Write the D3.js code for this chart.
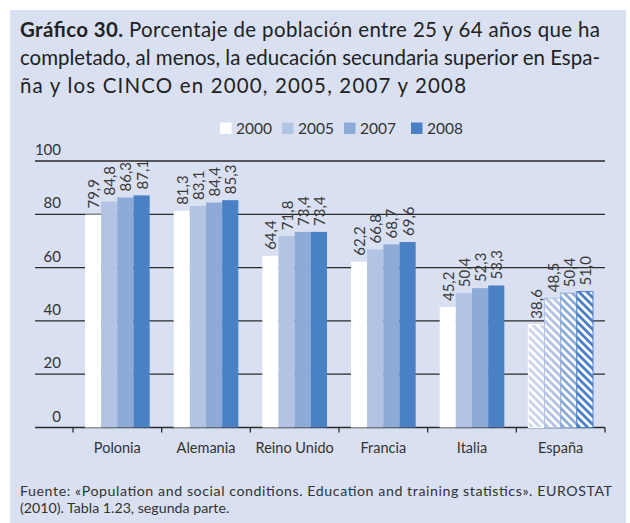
<!DOCTYPE html>
<html><head><meta charset="utf-8">
<script src="https://cdn.jsdelivr.net/npm/d3@7"></script>
<style>
html,body{margin:0;padding:0;background:#fff;}
svg{display:block;font-family:Lato,"Open Sans","DejaVu Sans",sans-serif;}
</style></head>
<body>
<svg id="c" width="630" height="523"></svg>
<script>
const categories = ["Polonia","Alemania","Reino Unido","Francia","Italia","España"];
const years = ["2000","2005","2007","2008"];
const v2000 = [79.9, 81.3, 64.4, 62.2, 45.2, 38.6];
const v2005 = [84.8, 83.1, 71.8, 66.8, 50.4, 48.5];
const v2007 = [86.3, 84.4, 73.4, 68.7, 52.3, 50.4];
const v2008 = [87.1, 85.3, 73.4, 69.6, 53.3, 51.0];
const yTicks = [0, 20, 40, 60, 80, 100];
const colors = ["#ffffff", "#b2c3e3", "#8eabd8", "#4a80c4"];
const hatchColors = ["#c9d3ea", "#b2c3e3", "#8eabd8", "#4a80c4"];
const hatched = ["España"];
const titleBold = "Gráfico 30.";
const titleLines = [" Porcentaje de población entre 25 y 64 años que ha",
  "completado, al menos, la educación secundaria superior en Espa-",
  "ña y los CINCO en 2000, 2005, 2007 y 2008"];
const footerLines = ["Fuente: «Population and social conditions. Education and training statistics». EUROSTAT",
  "(2010). Tabla 1.23, segunda parte."];

const series = [v2000, v2005, v2007, v2008];
const svg = d3.select("#c");
const fmt = v => d3.format(".1f")(v).replace(".", ",");

// panel background
svg.append("rect").attr("x",10).attr("y",10).attr("width",616).attr("height",513).attr("fill","#d9e0f1");

// title: fit font so the longest justified line is ~580 wide
const probe = svg.append("text").attr("font-size",20).text(titleLines[1]);
const tSize = Math.min(21, 20 * 580 / probe.node().getComputedTextLength());
probe.remove();
const t1 = svg.append("text").attr("x",20).attr("y",37).attr("font-size",tSize).attr("fill","#222")
  .attr("textLength",580).attr("lengthAdjust","spacing");
t1.append("tspan").attr("font-weight","bold").text(titleBold);
t1.append("tspan").text(titleLines[0]);
svg.append("text").attr("x",20).attr("y",65).attr("font-size",tSize).attr("fill","#222")
  .attr("textLength",580).attr("lengthAdjust","spacing").text(titleLines[1]);
svg.append("text").attr("x",20).attr("y",93).attr("font-size",tSize).attr("fill","#222")
  .attr("textLength",446).attr("lengthAdjust","spacing").text(titleLines[2]);

// scales
const y = d3.scaleLinear().domain([0,100]).range([427.5,161]);
const x0 = d3.scaleBand().domain(categories).range([73,605]).paddingInner(0).paddingOuter(0);
const x1 = d3.scaleBand().domain(years).range([12, x0.bandwidth()-12]).padding(0);

// patterns
const defs = svg.append("defs");
years.forEach((yr,i) => {
  const p = defs.append("pattern").attr("id","h"+yr).attr("patternUnits","userSpaceOnUse")
    .attr("width",5.6).attr("height",5.6).attr("patternTransform","rotate(-45)");
  p.append("rect").attr("width",5.6).attr("height",5.6).attr("fill","#fff");
  p.append("rect").attr("width",2.8).attr("height",5.6).attr("fill",hatchColors[i]);
});

// gridlines + tick labels
yTicks.forEach(t => {
  svg.append("line").attr("x1",35).attr("x2",605).attr("y1",y(t)).attr("y2",y(t))
    .attr("stroke","#2a2a2a").attr("stroke-width",1.3);
  svg.append("text").attr("x",61).attr("y",y(t)-6).attr("text-anchor","end")
    .attr("font-size",15).attr("fill","#333").text(t);
});

// x-axis ticks
const xTickPos = categories.map(c => x0(c)).concat([x0.range()[1]]);
xTickPos.forEach(px => {
  svg.append("line").attr("x1",px).attr("x2",px).attr("y1",y(0)).attr("y2",y(0)+5)
    .attr("stroke","#2a2a2a").attr("stroke-width",1.3);
});

// bars
const g = svg.append("g");
categories.forEach((c,ci) => {
  const isH = hatched.includes(c);
  years.forEach((yr,si) => {
    const v = series[si][ci];
    const bx = x0(c) + x1(yr);
    const bw = x1.bandwidth();
    g.append("rect").attr("x",bx).attr("y",y(v)).attr("width",bw).attr("height",y(0)-y(v))
      .attr("fill", isH ? "url(#h"+yr+")" : colors[si])
      .attr("stroke", isH ? (si===0 ? "#ffffff" : colors[si]) : "none")
      .attr("stroke-width", isH ? 1 : 0);
    g.append("text")
      .attr("transform", `translate(${bx+bw/2},${y(v)-6}) rotate(-90)`)
      .attr("dominant-baseline","central").attr("font-size",15).attr("fill","#3a3a3a")
      .text(fmt(v));
  });
  svg.append("text").attr("x",x0(c)+x0.bandwidth()/2).attr("y",453).attr("text-anchor","middle")
    .attr("font-size",14.5).attr("fill","#333").text(c);
});

// legend
const legX = [220, 282, 344, 411];
years.forEach((yr,i) => {
  svg.append("rect").attr("x",legX[i]).attr("y",122.5).attr("width",11.5).attr("height",11.5).attr("fill",colors[i]);
  svg.append("text").attr("x",legX[i]+16).attr("y",134).attr("font-size",15.5).attr("fill","#333").text(yr);
});

// footer: fit font so the first (justified) line is ~592 wide
const fp = svg.append("text").attr("font-size",14).text(footerLines[0]);
const fSize = Math.min(14.2, 14 * 592 / fp.node().getComputedTextLength());
fp.remove();
svg.append("text").attr("x",20).attr("y",496).attr("font-size",fSize).attr("fill","#333")
  .attr("textLength",592).attr("lengthAdjust","spacing").text(footerLines[0]);
svg.append("text").attr("x",20).attr("y",513).attr("font-size",fSize).attr("fill","#333")
  .text(footerLines[1]);
</script>
</body></html>
